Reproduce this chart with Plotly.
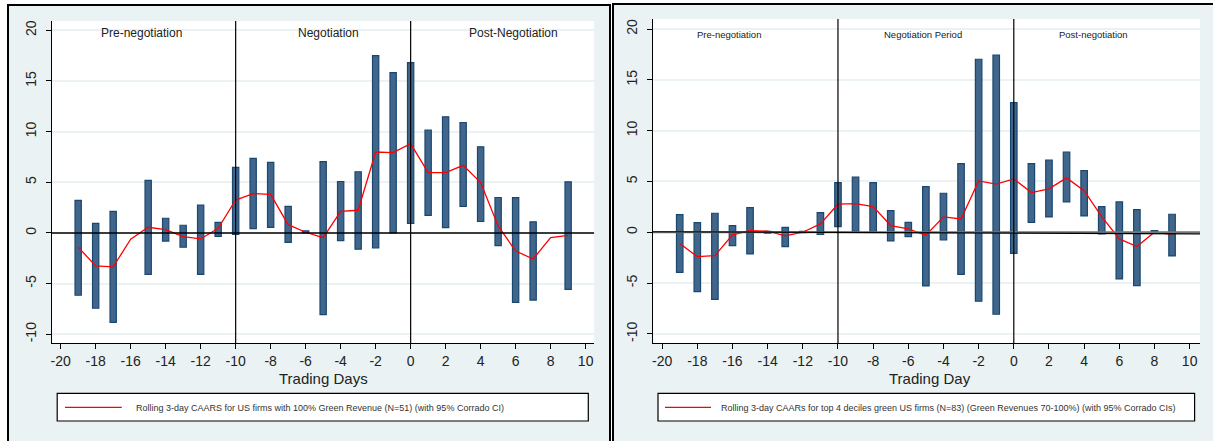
import plotly.graph_objects as go

W, H = 1213, 441

# Event window (trading days relative to announcement)
days = list(range(-19, 10))
x_ticks = list(range(-20, 11, 2))
x_ticktext = [str(v) for v in x_ticks]
y_ticks = [-10, -5, 0, 5, 10, 15, 20]
y_ticktext = [str(v) for v in y_ticks]

# Panel A: US firms with 100% green revenue (N=51)
caar_100 = [-1.4, -3.25, -3.35, -0.62, 0.56, 0.33, -0.36, -0.59, 0.46, 3.25,
            3.88, 3.81, 0.82, 0.07, -0.46, 2.14, 2.24, 7.99, 7.93, 8.82,
            5.95, 5.95, 6.68, 4.97, 0.69, -1.78, -2.57, -0.46, -0.23]
ci_hi_100 = [3.22, 0.95, 2.14, None, 5.2, 1.45, 0.76, 2.76, 1.05, 6.48,
             7.37, 6.97, 2.63, 0.2, 7.04, 5.08, 6.04, 17.5, 15.83, 16.81,
             10.14, 11.46, 10.9, 8.5, 3.5, 3.48, 1.1, None, 5.05]
ci_lo_100 = [-6.15, -7.43, -8.82, None, -4.08, -0.8, -1.41, -4.08, -0.33, -0.13,
             0.43, 0.56, -0.92, 0.0, -8.05, -0.75, -1.6, -1.47, 0.0, 0.95,
             1.74, 0.53, 2.62, 1.13, -1.24, -6.86, -6.62, None, -5.56]

# Panel B: top 4 deciles green US firms (N=83)
caar_top4 = [-1.1, -2.4, -2.3, -0.26, 0.16, 0.1, -0.36, 0.0, 0.82, 2.76,
             2.82, 2.53, 0.66, 0.33, -0.3, 1.51, 1.31, 5.05, 4.73, 5.25,
             3.9, 4.27, 5.35, 4.1, 1.54, -0.66, -1.41, 0.0, -0.2]
ci_hi_top4 = [1.74, 0.95, 1.87, 0.66, 2.43, 0.1, 0.49, 0.08, 1.94, 4.89,
              5.42, 4.89, 2.13, 0.98, 4.5, 3.84, 6.76, 17.03, 17.43, 12.77,
              6.76, 7.09, 7.88, 6.07, 2.53, 2.99, 2.23, 0.16, 1.77]
ci_lo_top4 = [-3.94, -5.84, -6.6, -1.31, -2.13, -0.1, -1.41, -0.05, -0.2, 0.56,
              0.1, 0.0, -0.85, -0.43, -5.28, -0.75, -4.14, -6.79, -8.07, -2.07,
              0.98, 1.51, 2.99, 1.61, -0.16, -4.59, -5.25, 0.0, -2.33]

labels_a = ["Pre-negotiation", "Negotiation", "Post-Negotiation"]
labels_a_x = [-15.4, -4.7, 5.9]
labels_b = ["Pre-negotiation", "Negotiation Period", "Post-negotiation"]
labels_b_x = [-16.2, -5.15, 4.55]

legend_a = "Rolling 3-day CAARS for US firms with 100% Green Revenue (N=51) (with 95% Corrado CI)"
legend_b = ("Rolling 3-day CAARs for top 4 deciles green US firms (N=83) "
            "(Green Revenues 70-100%) (with 95% Corrado CIs)")
xtitle_a = "Trading Days"
xtitle_b = "Trading Day"

FONT = "Liberation Sans, Arial, sans-serif"
BG = "#eaf2f3"
BAR_FILL = "#41668c"
BAR_LINE = "#1a476f"
RED = "#ff0000"


def px(x):
    return x / W


def py(y):
    return 1 - y / H


fig = go.Figure()


def add_panel(xa, ya, hi, lo, caar, width):
    bx = [d for d, h in zip(days, hi) if h is not None]
    bh = [h - l for h, l in zip(hi, lo) if h is not None]
    bl = [l for h, l in zip(hi, lo) if h is not None]
    fig.add_trace(go.Bar(
        x=bx, y=bh, base=bl, width=width, xaxis=xa, yaxis=ya,
        marker=dict(color=BAR_FILL, line=dict(color=BAR_LINE, width=1.2)),
        showlegend=False, hoverinfo="skip"))
    fig.add_trace(go.Scatter(
        x=days, y=caar, mode="lines", xaxis=xa, yaxis=ya,
        line=dict(color=RED, width=1.3), showlegend=False, hoverinfo="skip"))


add_panel("x", "y", ci_hi_100, ci_lo_100, caar_100, 0.36)
add_panel("x2", "y2", ci_hi_top4, ci_lo_top4, caar_top4, 0.37)

axis_common = dict(
    showline=True, linecolor="#000000", linewidth=1.2,
    ticks="outside", ticklen=5, tickcolor="#000000", tickwidth=1,
    tickfont=dict(family=FONT, size=14, color="#222222"),
    zeroline=False, fixedrange=True,
)

# Panel geometry (pixels)
A = dict(l=51.75, r=594.2, t=21, b=343.3)
B = dict(l=653.0, r=1200.0, t=19, b=343.3)

fig.update_layout(
    width=W, height=H,
    margin=dict(l=0, r=0, t=0, b=0),
    paper_bgcolor=BG, plot_bgcolor="#ffffff",
    barmode="overlay",
    xaxis=dict(domain=[px(A["l"]), px(A["r"])], range=[-20.51, 10.49],
               tickvals=x_ticks, ticktext=x_ticktext, showgrid=False, anchor="y",
               **axis_common),
    yaxis=dict(domain=[py(A["b"]), py(A["t"])], range=[-10.89, 20.92],
               tickvals=y_ticks, ticktext=y_ticktext, tickangle=-90, showgrid=True,
               ticklabelstandoff=4,
               gridcolor=BG, gridwidth=1.5, anchor="x", **axis_common),
    xaxis2=dict(domain=[px(B["l"]), px(B["r"])], range=[-20.52, 10.59],
                tickvals=x_ticks, ticktext=x_ticktext, showgrid=False, anchor="y2",
                **axis_common),
    yaxis2=dict(domain=[py(B["b"]), py(B["t"])], range=[-10.93, 20.99],
                tickvals=y_ticks, ticktext=y_ticktext, tickangle=-90, showgrid=True,
                ticklabelstandoff=4,
                gridcolor=BG, gridwidth=1.5, anchor="x2", **axis_common),
)

shapes = []
# white surround outside the two framed panels
for x0, y0, x1, y1 in [(0, 0, 7, H), (0, 0, W, 4), (610, 0, 613, H)]:
    shapes.append(dict(type="rect", xref="paper", yref="paper",
                       x0=px(x0), x1=px(x1), y0=py(y1), y1=py(y0),
                       fillcolor="#ffffff", line=dict(width=0), layer="below"))
# panel frames
for x0, y0, x1, y1 in [(8, 5, 610, H + 5), (613, 4, W + 5, H + 5)]:
    shapes.append(dict(type="rect", xref="paper", yref="paper",
                       x0=px(x0), x1=px(x1), y0=py(y1), y1=py(y0),
                       line=dict(color="#000000", width=2), layer="above"))

# zero lines and period separators
shapes.append(dict(type="line", xref="x", yref="y", x0=-20.51, x1=10.49, y0=0, y1=0,
                   line=dict(color="#000000", width=1.5), layer="above"))
shapes.append(dict(type="line", xref="x2", yref="y2", x0=-20.52, x1=10.59, y0=0, y1=0,
                   line=dict(color="#777777", width=2), layer="above"))
shapes.append(dict(type="line", xref="x2", yref="y2", x0=-20.52, x1=10.59, y0=0.05, y1=-0.15,
                   line=dict(color="#000000", width=1.2), layer="above"))
for xr, yr, yt in [("x", "y", 20.92), ("x2", "y2", 20.99)]:
    for v in (-10, 0):
        shapes.append(dict(type="line", xref=xr, yref=yr, x0=v, x1=v, y0=-11, y1=yt,
                           line=dict(color="#000000", width=1.2), layer="above"))

# legend boxes
for bx0, bx1, lx0, lx1 in [(57.2, 588.3, 65, 121.8), (658, 1194.6, 665, 711)]:
    shapes.append(dict(type="rect", xref="paper", yref="paper",
                       x0=px(bx0), x1=px(bx1), y0=py(421), y1=py(393.3),
                       fillcolor="#ffffff", line=dict(color="#000000", width=1.2)))
    shapes.append(dict(type="line", xref="paper", yref="paper",
                       x0=px(lx0), x1=px(lx1), y0=py(407.3), y1=py(407.3),
                       line=dict(color=RED, width=1.3)))

annotations = []
for txt, xv in zip(labels_a, labels_a_x):
    annotations.append(dict(text=txt, x=xv, y=19.7, xref="x", yref="y", showarrow=False,
                            xanchor="center", yanchor="middle",
                            font=dict(family=FONT, size=12, color="#222222")))
for txt, xv in zip(labels_b, labels_b_x):
    annotations.append(dict(text=txt, x=xv, y=19.5, xref="x2", yref="y2", showarrow=False,
                            xanchor="center", yanchor="middle",
                            font=dict(family=FONT, size=9.5, color="#222222")))
for txt, cx in [(xtitle_a, 323), (xtitle_b, 930)]:
    annotations.append(dict(text=txt, x=px(cx), y=py(378), xref="paper", yref="paper",
                            showarrow=False, xanchor="center", yanchor="middle",
                            font=dict(family=FONT, size=15, color="#222222")))
for txt, tx in [(legend_a, 133.5), (legend_b, 718.5)]:
    annotations.append(dict(text=txt, x=px(tx), y=py(407.5), xref="paper", yref="paper",
                            showarrow=False, xanchor="left", yanchor="middle",
                            font=dict(family=FONT, size=9, color="#333333")))

fig.update_layout(shapes=shapes, annotations=annotations)

fig.write_html("out.html")
